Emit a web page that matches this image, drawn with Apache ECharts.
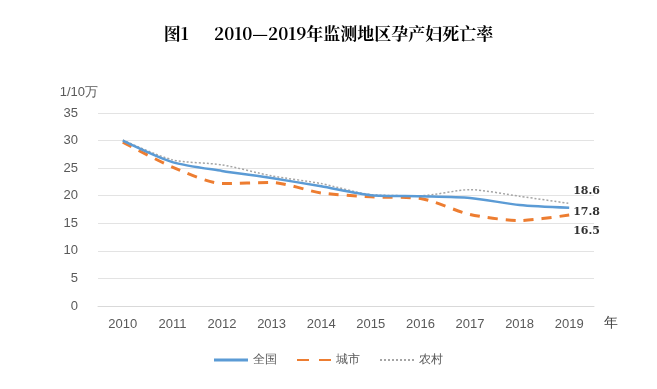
<!DOCTYPE html>
<html><head><meta charset="utf-8">
<script src="https://cdn.jsdelivr.net/npm/echarts@6/dist/echarts.min.js"></script>
<style>html,body{margin:0;padding:0;background:#fff}#c{width:657px;height:389px}</style>
</head><body><div id="c"></div>
<script>
const years = ['2010','2011','2012','2013','2014','2015','2016','2017','2018','2019'];
const national = [30.0, 26.1, 24.5, 23.2, 21.7, 20.1, 19.9, 19.6, 18.3, 17.8];
const urban = [29.7, 25.2, 22.2, 22.4, 20.5, 19.8, 19.5, 16.6, 15.5, 16.5];
const rural = [30.1, 26.5, 25.6, 23.6, 22.2, 20.2, 20.0, 21.1, 19.9, 18.6];
const yTicks = [0, 5, 10, 15, 20, 25, 30, 35];

const chart = echarts.init(document.getElementById('c'));
function endLbl(dy) {
  return {
    show: true,
    formatter: p => Number(p.value).toFixed(1),
    offset: [0, dy], distance: 4,
    color: '#333', fontSize: 11, fontFamily: 'DejaVu Serif', fontWeight: 'bold'
  };
}
chart.setOption({
  animation: false,
  title: {
    text: '图1      2010—2019年监测地区孕产妇死亡率',
    left: 'center', top: 20,
    textStyle: { fontFamily: '"Noto Serif CJK SC","Noto Sans CJK SC",serif', fontWeight: 'bold', fontSize: 17, color: '#000' }
  },
  grid: { left: 98, right: 63, top: 113, bottom: 83 },
  legend: {
    bottom: 18, left: 'center', itemWidth: 34, itemHeight: 3, itemGap: 20,
    textStyle: { color: '#595959', fontSize: 12 },
    data: [
      { name: '全国', icon: 'rect' },
      { name: '城市', icon: 'path://M0,0 h12 v2 h-12z M22,0 h12 v2 h-12z' },
      { name: '农村', icon: 'path://M0,0h2v2h-2zM4,0h2v2h-2zM8,0h2v2h-2zM12,0h2v2h-2zM16,0h2v2h-2zM20,0h2v2h-2zM24,0h2v2h-2zM28,0h2v2h-2zM32,0h2v2h-2z' }
    ]
  },
  xAxis: {
    type: 'category', data: years, boundaryGap: true,
    name: '年', nameLocation: 'end', nameGap: 10,
    nameTextStyle: { color: '#404040', fontSize: 14, verticalAlign: 'top', padding: [10, 0, 0, 0] },
    axisLine: { lineStyle: { color: '#d9d9d9' } },
    axisTick: { show: false },
    axisLabel: { color: '#595959', fontSize: 13, margin: 12 }
  },
  yAxis: {
    type: 'value', min: 0, max: 35, interval: 5,
    name: '1/10万', nameLocation: 'end', nameGap: 14,
    nameTextStyle: { color: '#595959', fontSize: 13, align: 'right' },
    axisLine: { show: false }, axisTick: { show: false },
    axisLabel: { color: '#595959', fontSize: 13, margin: 20, formatter: v => yTicks.includes(v) ? String(v) : '' },
    splitLine: { lineStyle: { color: '#e3e3e3', width: 1 } }
  },
  series: [
    { name: '全国', type: 'line', data: national, smooth: 0.25, symbol: 'none',
      lineStyle: { color: '#5B9BD5', width: 2.5 }, itemStyle: { color: '#5B9BD5' },
      endLabel: endLbl(4), z: 3 },
    { name: '城市', type: 'line', data: urban, smooth: 0.25, symbol: 'none',
      lineStyle: { color: '#ED7D31', width: 3, type: [10, 8] }, itemStyle: { color: '#ED7D31' },
      endLabel: endLbl(16), z: 2 },
    { name: '农村', type: 'line', data: rural, smooth: 0.25, symbol: 'none',
      lineStyle: { color: '#A5A5A5', width: 1.5, type: [2, 2] }, itemStyle: { color: '#A5A5A5' },
      endLabel: endLbl(-12), z: 1 }
  ]
});
</script></body></html>
